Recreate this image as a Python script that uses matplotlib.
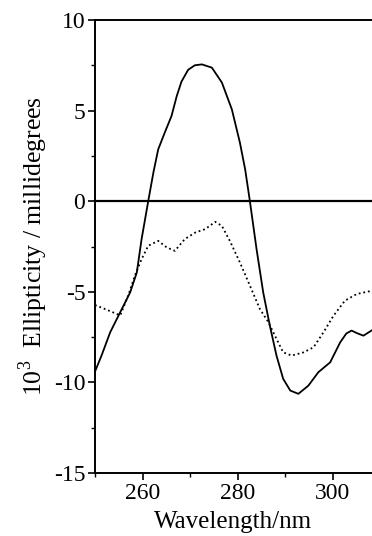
import matplotlib
matplotlib.use('Agg')
import matplotlib.pyplot as plt
from matplotlib.ticker import MultipleLocator

# solid curve
solid_x = [250.0, 251.4, 253.2, 255.3, 257.4, 258.8, 259.8, 261.2, 262.3, 263.3, 264.7,
           266.1, 267.2, 268.2, 269.6, 271.0, 272.5, 274.6, 276.7, 278.8, 280.5,
           281.6, 282.6, 284.0, 285.4, 286.8, 288.2, 289.6, 291.1, 292.8, 294.9,
           297.0, 299.5, 301.6, 302.9, 304.0, 305.3, 306.5, 308.3]
solid_y = [-9.4, -8.5, -7.23, -6.13, -5.03, -3.93, -2.1, 0.0, 1.6, 2.86, 3.8,
           4.7, 5.8, 6.6, 7.25, 7.5, 7.55, 7.37, 6.55, 5.07, 3.23,
           1.76, 0.0, -2.64, -5.03, -6.87, -8.52, -9.8, -10.45, -10.63, -10.18,
           -9.44, -8.89, -7.79, -7.3, -7.14, -7.3, -7.42, -7.12]

# dotted curve
dot_x = [250.0, 252.1, 255.3, 257.0, 258.4, 259.8, 261.2, 263.3, 265.1, 266.8,
         268.9, 271.1, 273.2, 275.3, 276.7, 278.4, 280.5, 282.6, 284.7, 286.5,
         288.2, 289.6, 291.4, 293.9, 296.0, 298.1, 300.2, 302.6, 305.1, 308.3]
dot_y = [-5.73, -5.95, -6.3, -5.2, -4.1, -3.2, -2.46, -2.19, -2.55, -2.74,
         -2.09, -1.73, -1.54, -1.14, -1.36, -2.2, -3.38, -4.66, -5.95, -6.68,
         -7.6, -8.34, -8.52, -8.34, -8.06, -7.23, -6.32, -5.49, -5.12, -4.94]

plt.rcParams['font.family'] = ['Liberation Serif', 'DejaVu Serif']
plt.rcParams['mathtext.fontset'] = 'custom'
plt.rcParams['mathtext.rm'] = 'Liberation Serif'
plt.rcParams['axes.unicode_minus'] = False

fig = plt.figure(figsize=(3.72, 5.36), dpi=100)
ax = fig.add_axes([0.2554, 0.1175, 0.7446, 0.8452])

ax.plot(solid_x, solid_y, color='black', linewidth=1.3)
ax.plot(dot_x, dot_y, color='black', linewidth=1.3, linestyle=(0, (1, 1.6)))
ax.axhline(0, color='black', linewidth=1.6)

ax.set_xlim(250, 308.3)
ax.set_ylim(-15, 10)
ax.spines['right'].set_visible(False)
for s in ['left', 'bottom', 'top']:
    ax.spines[s].set_linewidth(1.4)

ax.set_xticks([260, 280, 300])
ax.xaxis.set_minor_locator(MultipleLocator(10))
ax.yaxis.set_major_locator(MultipleLocator(5))
ax.yaxis.set_minor_locator(MultipleLocator(2.5))
ax.tick_params(axis='both', which='major', direction='out', length=5, width=1.2,
               labelsize=17, top=False, right=False, pad=2)
ax.tick_params(axis='both', which='minor', direction='out', length=3, width=1.0,
               top=False, right=False)

ax.set_xlabel('Wavelength/nm', fontsize=18, labelpad=5)
ax.set_ylabel('10$^3$  Ellipticity / millidegrees', fontsize=18.5, labelpad=3)

fig.savefig('out.png', dpi=100)
